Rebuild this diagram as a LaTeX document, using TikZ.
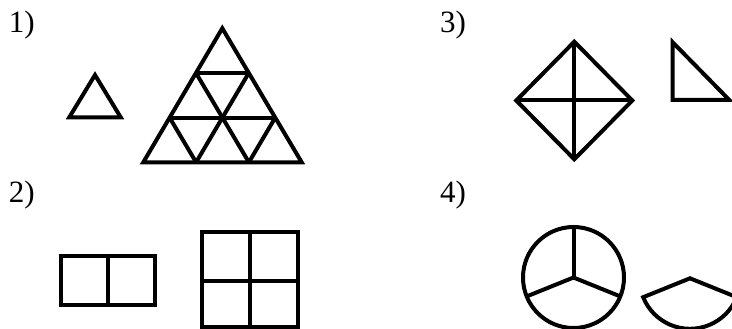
\documentclass[tikz,border=0pt]{standalone}
\usepackage{fontspec}
\setmainfont{Liberation Serif}
\usetikzlibrary{calc}
\begin{document}
\begin{tikzpicture}[x=1pt,y=-1pt,line width=4pt,
    lbl/.style={anchor=base west,inner sep=0pt,font=\fontsize{31}{36}\selectfont}]
        \useasboundingbox (0,0) rectangle (732,329);
        \node[lbl] (n1) at (7,32.5) {1)};
        \node[lbl] (n2) at (7,202.5) {2)};
        \node[lbl] (n3) at (438,32.5) {3)};
        \node[lbl] (n4) at (438,202.5) {4)};
        % 1) small triangle and big triangle cut in nine
        \draw (95,75)--(69.3,117.3)--(120.7,117.3)--cycle;
        \coordinate (A) at (222.3,28.3);
        \coordinate (B) at (143.3,162.3);
        \coordinate (C) at (301.7,162.3);
        \draw (A)--(B)--(C)--cycle;
        \foreach \k in {1,2}{
          \draw ($(A)!\k/3!(B)$)--($(A)!\k/3!(C)$);
          \draw ($(B)!\k/3!(C)$)--($(B)!\k/3!(A)$);
          \draw ($(C)!\k/3!(B)$)--($(C)!\k/3!(A)$);}
        % 2) two squares and four squares
        \draw (61,256) rectangle (155,305);
        \draw (107.5,256)--(107.5,305);
        \draw (201.7,232.3) rectangle (298.3,326.7);
        \draw (250,232.3)--(250,326.7);
        \draw (201.7,281)--(298.3,281);
        % 3) square with diagonals and a right triangle
        \coordinate (D) at (574.3,100.5);
        \draw ($(D)+(0,-58.8)$)--($(D)+(58,0)$)--($(D)+(0,58.8)$)--($(D)+(-58,0)$)--cycle;
        \draw ($(D)+(0,-58.8)$)--($(D)+(0,58.8)$);
        \draw ($(D)+(-58,0)$)--($(D)+(58,0)$);
        \draw (672.7,42.3)--(672.7,100)--(729.3,100)--cycle;
        % 4) circle in three parts and one part
        \coordinate (O) at (573.5,277.5);
        \draw (O) circle (50.5pt);
        \foreach \a in {22,158,270}{\draw (O)--++(\a:50.5);}
        \coordinate (S) at (690,278.3);
        \draw (S)--++(158:50.5) arc[start angle=158,end angle=22,radius=50.5]--cycle;
      \end{tikzpicture}
\end{document}
